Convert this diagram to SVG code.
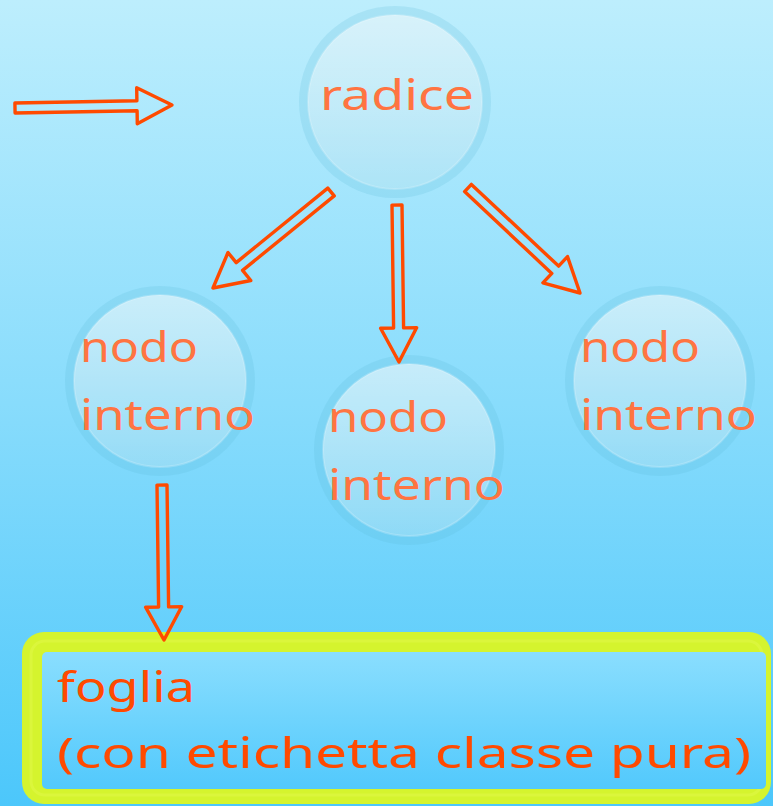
<svg xmlns="http://www.w3.org/2000/svg" width="773" height="806" viewBox="0 0 773 806">
  <defs>
    <linearGradient id="bg" x1="0" y1="0" x2="0" y2="1">
      <stop offset="0" stop-color="#bdeefd"/>
      <stop offset="0.5" stop-color="#88dcfc"/>
      <stop offset="1" stop-color="#4cc7fb"/>
    </linearGradient>
    <linearGradient id="bubble" x1="0" y1="0" x2="0" y2="1">
      <stop offset="0" stop-color="#ffffff" stop-opacity="0.55"/>
      <stop offset="1" stop-color="#ffffff" stop-opacity="0.22"/>
    </linearGradient>
    <linearGradient id="leafFill" x1="0" y1="0" x2="0" y2="1">
      <stop offset="0" stop-color="#8adefe"/>
      <stop offset="1" stop-color="#52c9fc"/>
    </linearGradient>
  </defs>
  <style>
    .ring { fill: #5ab8d8; fill-opacity: 0.2; }
    .core { fill: url(#bubble); stroke: #ffffff; stroke-opacity: 0.2; stroke-width: 2; }
    .lbl { font-family: "Noto Sans", "DejaVu Sans", sans-serif; font-size: 42px; fill: #ff7441; }
    .leaftxt { font-family: "Noto Sans", "DejaVu Sans", sans-serif; font-size: 42px; fill: #ff4a00; }
    .arrow { fill: none; stroke: #ff4a00; stroke-width: 3.4; stroke-linejoin: round; }
  </style>

  <rect x="0" y="0" width="773" height="806" fill="url(#bg)"/>

  <!-- root node -->
  <g id="root">
    <circle class="ring" cx="395" cy="102" r="96"/>
    <circle class="core" cx="395" cy="102" r="87"/>
    <text class="lbl" x="320" y="110" textLength="154" lengthAdjust="spacingAndGlyphs">radice</text>
  </g>

  <!-- internal nodes -->
  <g id="node-left">
    <circle class="ring" cx="160" cy="381" r="95"/>
    <circle class="core" cx="160" cy="381" r="86"/>
    <text class="lbl" x="80" y="362" textLength="118" lengthAdjust="spacingAndGlyphs">nodo</text>
    <text class="lbl" x="80" y="430" textLength="175" lengthAdjust="spacingAndGlyphs">interno</text>
  </g>

  <g id="node-middle">
    <circle class="ring" cx="409" cy="450" r="95"/>
    <circle class="core" cx="409" cy="450" r="86"/>
    <text class="lbl" x="328" y="432" textLength="120" lengthAdjust="spacingAndGlyphs">nodo</text>
    <text class="lbl" x="328" y="500" textLength="177" lengthAdjust="spacingAndGlyphs">interno</text>
  </g>

  <g id="node-right">
    <circle class="ring" cx="660" cy="381" r="95"/>
    <circle class="core" cx="660" cy="381" r="86"/>
    <text class="lbl" x="580" y="362" textLength="120" lengthAdjust="spacingAndGlyphs">nodo</text>
    <text class="lbl" x="580" y="430" textLength="177" lengthAdjust="spacingAndGlyphs">interno</text>
  </g>

  <!-- leaf -->
  <g id="leaf">
    <rect x="22" y="632" width="749" height="172" rx="22" fill="#d5f42e"/>
    <rect x="31" y="641" width="731" height="154" rx="14" fill="none" stroke="#dbf63c" stroke-width="3"/>
    <rect x="42" y="652" width="724" height="137" rx="5" fill="url(#leafFill)"/>
    <text class="leaftxt" x="57" y="702" textLength="138" lengthAdjust="spacingAndGlyphs">foglia</text>
    <text class="leaftxt" x="57" y="768" textLength="694" lengthAdjust="spacingAndGlyphs">(con etichetta classe pura)</text>
  </g>

  <!-- hollow block arrows -->
  <g id="connectors">
    <path class="arrow" d="M14.9,103 L136.9,100.7 L136.7,87.7 L172,105 L137.3,123.7 L137.1,110.7 L15.1,113 Z"/>
    <path class="arrow" d="M327.8,188.1 L236.2,262.6 L228,252.5 L213,288 L250.8,280.5 L242.6,270.4 L334.2,195.9 Z"/>
    <path class="arrow" d="M392,205.1 L393.6,328.1 L380.6,328.2 L399,362 L416.6,327.8 L403.6,327.9 L402,204.9 Z"/>
    <path class="arrow" d="M464.6,191.6 L551.8,273.4 L542.9,282.8 L580,293 L567.5,256.6 L558.6,266.1 L471.4,184.4 Z"/>
    <path class="arrow" d="M157,485.1 L158.6,607.1 L145.6,607.2 L164,640 L181.6,606.8 L168.6,606.9 L167,484.9 Z"/>
  </g>
</svg>
